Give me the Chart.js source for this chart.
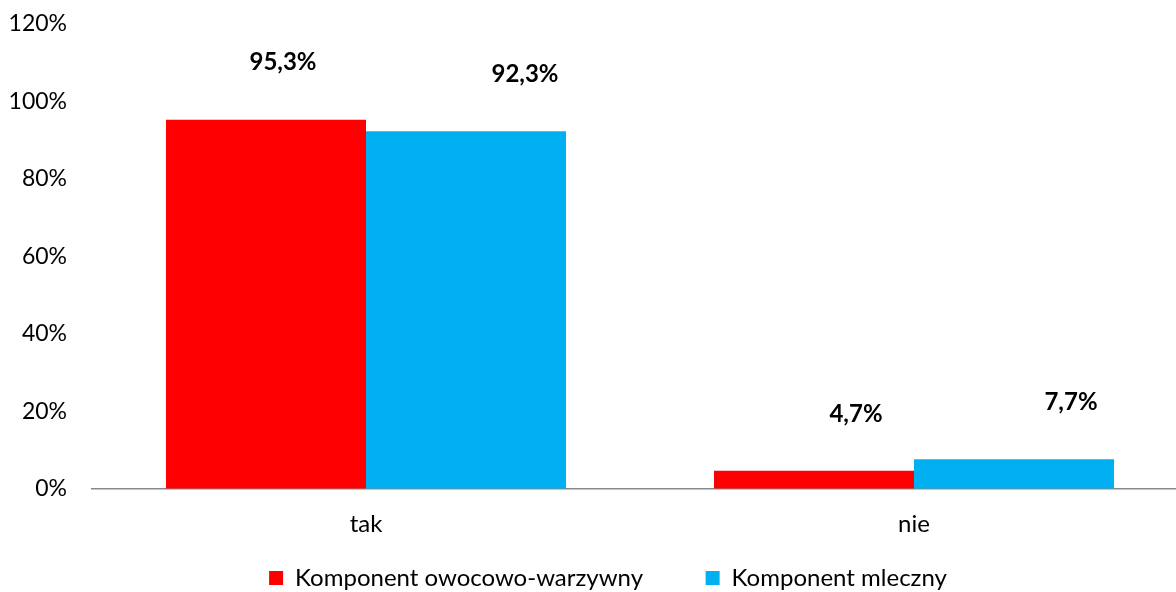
<!DOCTYPE html>
<html lang="pl">
<head>
<meta charset="UTF-8">
<title>Komponent owocowo-warzywny / mleczny</title>
<script src="https://cdn.jsdelivr.net/npm/chart.js"></script>
<style>
  body { margin: 0; padding: 0; background: #fff; overflow: hidden; }
  #wrap { width: 1176px; height: 592px; overflow: hidden; }
</style>
</head>
<body>
<div id="wrap">
  <canvas id="chart" width="1217" height="592"></canvas>
</div>
<script>
// data
const categories = ['tak', 'nie'];
const seriesNames = ['Komponent owocowo-warzywny', 'Komponent mleczny'];
const fruitVeg = [95.3, 4.7];
const dairy = [92.3, 7.7];
const yTicks = [0, 20, 40, 60, 80, 100, 120];

// label nudges (px), like the moved labels in the original
const labelShiftX = [[17, 42], [59, 57]];
const labelRise = 57;

const FONT = 'Lato, "Open Sans", sans-serif';

const valueLabels = {
  id: 'valueLabels',
  afterDatasetsDraw(chart) {
    const ctx = chart.ctx;
    ctx.save();
    ctx.font = 'bold 24px ' + FONT;
    ctx.fillStyle = '#000';
    ctx.textAlign = 'center';
    ctx.textBaseline = 'middle';
    chart.data.datasets.forEach((ds, i) => {
      chart.getDatasetMeta(i).data.forEach((bar, j) => {
        const txt = ds.data[j].toFixed(1).replace('.', ',') + '%';
        ctx.fillText(txt, bar.x + labelShiftX[i][j], bar.y - labelRise);
      });
    });
    ctx.restore();
  }
};

new Chart(document.getElementById('chart'), {
  type: 'bar',
  data: {
    labels: categories,
    datasets: [
      { label: seriesNames[0], data: fruitVeg, backgroundColor: '#FF0000' },
      { label: seriesNames[1], data: dairy, backgroundColor: '#00B0F0' }
    ]
  },
  options: {
    responsive: false,
    animation: false,
    layout: { padding: { top: 24, right: 29, left: 0, bottom: -8 } },
    datasets: { bar: { categoryPercentage: 0.73, barPercentage: 1 } },
    scales: {
      x: {
        afterFit(scale) { scale.height = 75; },
        grid: { display: false, drawTicks: false },
        border: { display: true, color: '#898989', width: 1.5 },
        ticks: { color: '#000', padding: 21, font: { family: FONT, size: 24 } }
      },
      y: {
        min: 0, max: 120,
        afterFit(scale) { scale.width = 92; },
        afterBuildTicks(scale) { scale.ticks = yTicks.map(v => ({ value: v })); },
        grid: { color: 'rgba(0,0,0,0)', drawOnChartArea: false, tickLength: 25 },
        border: { display: false },
        ticks: {
          color: '#000', padding: 0,
          font: { family: FONT, size: 23 },
          callback: v => v + '%'
        }
      }
    },
    plugins: {
      legend: {
        position: 'bottom',
        labels: {
          color: '#000', boxWidth: 14, boxHeight: 14, padding: 2,
          font: { family: FONT, size: 24 },
          generateLabels(chart) {
            const items = Chart.defaults.plugins.legend.labels.generateLabels(chart);
            items[0].text += '\u2003\u2003    ';
            // empty spacer item so the legend sits where it does in the original
            items.unshift({ text: '', fillStyle: 'rgba(0,0,0,0)', strokeStyle: 'rgba(0,0,0,0)', lineWidth: 0, hidden: false, datasetIndex: -1 });
            return items;
          }
        }
      },
      tooltip: { enabled: false }
    }
  },
  plugins: [valueLabels]
});
</script>
</body>
</html>
